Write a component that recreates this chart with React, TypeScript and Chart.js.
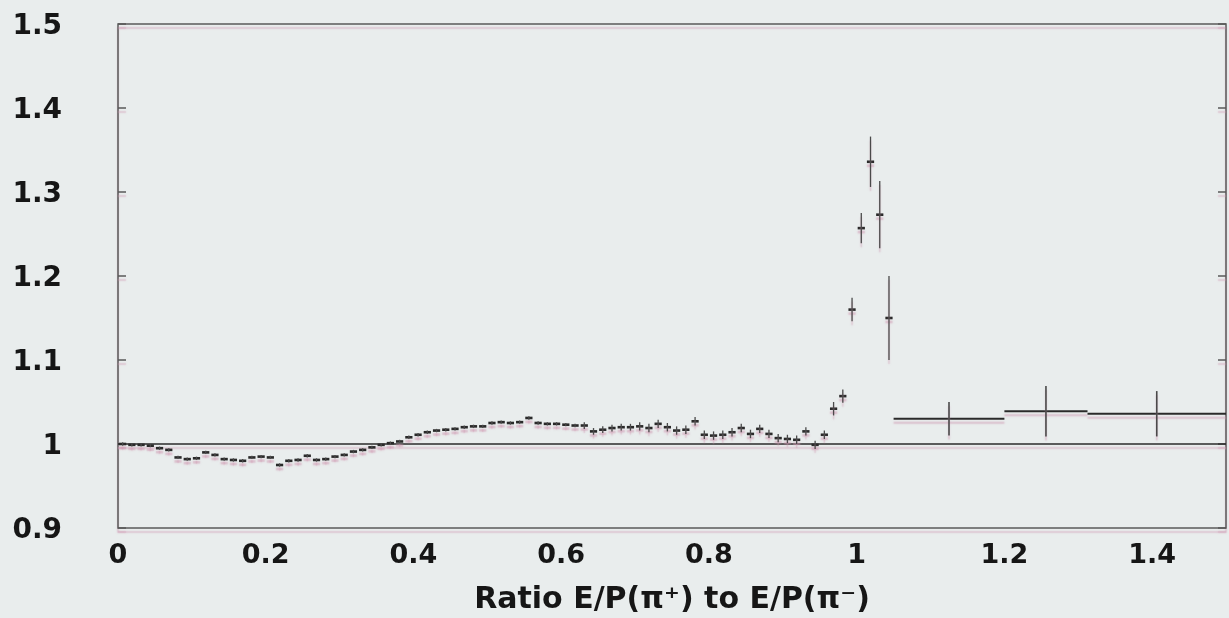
import React, { useEffect, useRef } from "react";
import { Chart, registerables } from "chart.js";

Chart.register(...registerables);

// ---- data ----
const BIN_WIDTH = 0.0125;
const NARROW_VALUES = [
  1.0, 0.999, 0.999, 0.998, 0.995, 0.993, 0.984, 0.982, 0.983, 0.99,
  0.987, 0.982, 0.981, 0.98, 0.984, 0.985, 0.984, 0.975, 0.98, 0.981,
  0.986, 0.981, 0.982, 0.985, 0.987, 0.991, 0.993, 0.996, 0.999, 1.001,
  1.003, 1.008, 1.011, 1.014, 1.016, 1.017, 1.018, 1.02, 1.021, 1.021,
  1.025, 1.026, 1.025, 1.026, 1.031, 1.025, 1.024, 1.024, 1.023, 1.022,
  1.022, 1.015, 1.017, 1.019, 1.02, 1.02, 1.021, 1.019, 1.024, 1.02,
  1.016, 1.017, 1.027, 1.011, 1.01, 1.011, 1.014, 1.019, 1.012, 1.018,
  1.012, 1.007, 1.006, 1.005, 1.015, 0.999, 1.011, 1.042, 1.057, 1.16,
  1.257, 1.336, 1.273, 1.15,
];
const NARROW_ERRORS = [
  0.002, 0.002, 0.002, 0.002, 0.002, 0.002, 0.002, 0.002, 0.002, 0.002,
  0.002, 0.002, 0.002, 0.002, 0.002, 0.002, 0.002, 0.002, 0.002, 0.002,
  0.002, 0.002, 0.002, 0.002, 0.002, 0.002, 0.002, 0.002, 0.002, 0.002,
  0.002, 0.002, 0.002, 0.002, 0.002, 0.002, 0.002, 0.002, 0.002, 0.002,
  0.002, 0.002, 0.002, 0.002, 0.002, 0.002, 0.002, 0.002, 0.002, 0.002,
  0.004, 0.004, 0.004, 0.004, 0.004, 0.004, 0.005, 0.005, 0.005, 0.005,
  0.005, 0.005, 0.005, 0.005, 0.005, 0.005, 0.005, 0.005, 0.005, 0.005,
  0.005, 0.005, 0.005, 0.005, 0.005, 0.005, 0.005, 0.008, 0.008, 0.014,
  0.018, 0.03, 0.04, 0.05,
];
const WIDE_EDGES = [1.05, 1.2, 1.3125, 1.5];
const WIDE_VALUES = [1.03, 1.039, 1.036];
const WIDE_ERRORS = [0.02, 0.03, 0.027];
const REFERENCE_LEVEL = 1;
const X_RANGE = [0, 1.5];
const Y_RANGE = [0.9, 1.5];
const X_TICKS = [0, 0.2, 0.4, 0.6, 0.8, 1, 1.2, 1.4];
const Y_TICKS = [0.9, 1, 1.1, 1.2, 1.3, 1.4, 1.5];
const X_TITLE = "Ratio E/P(π⁺) to E/P(π⁻)";

// ---- styles ----
const BG = "#e9eded";
const INK = "#161616";
const MARK = "#2a2a2a";
const FRAME = "#5a5a5a";
const GHOST = "rgba(205,150,175,0.55)";

const narrowPoints = NARROW_VALUES.map((v, i) => ({
  x: (i + 0.5) * BIN_WIDTH,
  y: v,
  xlo: i * BIN_WIDTH,
  xhi: (i + 1) * BIN_WIDTH,
  err: NARROW_ERRORS[i],
}));
const widePoints = WIDE_VALUES.map((v, i) => ({
  x: (WIDE_EDGES[i] + WIDE_EDGES[i + 1]) / 2,
  y: v,
  xlo: WIDE_EDGES[i],
  xhi: WIDE_EDGES[i + 1],
  err: WIDE_ERRORS[i],
}));

const fmt = (v: number) => String(Math.round(v * 100) / 100);

const ghostPlugin = {
  id: "ghost",
  beforeDatasetsDraw(chart: any) {
    const ctx = chart.ctx as CanvasRenderingContext2D;
    const { left, right, top, bottom } = chart.chartArea;
    ctx.save();
    ctx.shadowColor = GHOST;
    ctx.shadowOffsetY = 4;
    ctx.shadowBlur = 1.5;
    ctx.strokeStyle = FRAME;
    ctx.lineWidth = 1.5;
    ctx.strokeRect(left, top, right - left, bottom - top);
    const ys = chart.scales.y;
    ctx.lineWidth = 1.5;
    ctx.beginPath();
    ys.ticks.forEach((t: any) => {
      const py = ys.getPixelForValue(t.value);
      ctx.moveTo(left, py);
      ctx.lineTo(left + 8, py);
      ctx.moveTo(right, py);
      ctx.lineTo(right - 8, py);
    });
    ctx.stroke();
  },
  afterDatasetsDraw(chart: any) {
    const ctx = chart.ctx as CanvasRenderingContext2D;
    const xs = chart.scales.x;
    const ys = chart.scales.y;
    chart.data.datasets.forEach((ds: any) => {
      if (!ds.errorBars) return;
      ds.data.forEach((p: any) => {
        const px = xs.getPixelForValue(p.x);
        const py = ys.getPixelForValue(p.y);
        const x0 = xs.getPixelForValue(p.xlo);
        const x1 = xs.getPixelForValue(p.xhi);
        const y0 = ys.getPixelForValue(p.y - p.err);
        const y1 = ys.getPixelForValue(p.y + p.err);
        ctx.strokeStyle = MARK;
        ctx.lineWidth = ds.hWidth;
        ctx.beginPath();
        ctx.moveTo(x0 + ds.gap, py);
        ctx.lineTo(x1 - ds.gap, py);
        ctx.stroke();
        ctx.strokeStyle = "#4a4a4a";
        ctx.lineWidth = ds.vWidth;
        ctx.beginPath();
        ctx.moveTo(px, y0);
        ctx.lineTo(px, y1);
        ctx.stroke();
      });
    });
    ctx.restore();
  },
};

export default function App() {
  const ref = useRef<HTMLCanvasElement>(null);
  useEffect(() => {
    if (!ref.current) return;
    Chart.defaults.font.family = "'DejaVu Sans', sans-serif";
    const chart = new Chart(ref.current, {
      type: "scatter",
      data: {
        datasets: [
          {
            type: "line",
            data: [
              { x: X_RANGE[0], y: REFERENCE_LEVEL },
              { x: X_RANGE[1], y: REFERENCE_LEVEL },
            ],
            borderColor: MARK,
            borderWidth: 1.6,
            pointRadius: 0,
            fill: false,
          } as any,
          {
            data: narrowPoints,
            pointRadius: 0,
            errorBars: true,
            hWidth: 2.6,
            vWidth: 1.3,
            gap: 1,
          } as any,
          {
            data: widePoints,
            pointRadius: 0,
            errorBars: true,
            hWidth: 2,
            vWidth: 1.6,
            gap: 0,
          } as any,
        ],
      },
      options: {
        responsive: false,
        animation: false,
        events: [],
        layout: { padding: { top: 24, right: 3, left: 0, bottom: 0 } },
        plugins: {
          legend: { display: false },
          tooltip: { enabled: false },
          title: { display: false },
        },
        scales: {
          x: {
            type: "linear",
            min: X_RANGE[0],
            max: X_RANGE[1],
            afterFit: (s: any) => {
              s.height = 90;
              s.paddingLeft = 0;
              s.paddingRight = 0;
            },
            afterBuildTicks: (s: any) => {
              s.ticks = X_TICKS.map((v) => ({ value: v }));
            },
            grid: { display: false, drawTicks: false },
            border: { display: false },
            ticks: {
              autoSkip: false,
              maxRotation: 0,
              padding: 12,
              color: INK,
              font: { size: 27, weight: "bold" },
              callback: (v: any) => fmt(Number(v)),
            },
            title: {
              display: true,
              text: X_TITLE,
              color: INK,
              font: { size: 30, weight: "bold" },
              padding: { top: 0, bottom: 0 },
            },
          },
          y: {
            type: "linear",
            min: Y_RANGE[0],
            max: Y_RANGE[1],
            afterFit: (s: any) => {
              s.width = 118;
              s.paddingTop = 0;
              s.paddingBottom = 0;
            },
            afterBuildTicks: (s: any) => {
              s.ticks = Y_TICKS.map((v) => ({ value: v }));
            },
            grid: { display: false, drawTicks: false },
            border: { display: false },
            ticks: {
              autoSkip: false,
              padding: 56,
              labelOffset: 3,
              color: INK,
              font: { size: 28, weight: "bold" },
              callback: (v: any) => fmt(Number(v)),
            },
          },
        },
      },
      plugins: [ghostPlugin],
    });
    return () => chart.destroy();
  }, []);
  return (
    <div
      style={{
        position: "fixed",
        left: 0,
        top: 0,
        width: 1229,
        height: 618,
        background: BG,
      }}
    >
      <canvas ref={ref} width={1229} height={618} style={{ display: "block" }} />
    </div>
  );
}
